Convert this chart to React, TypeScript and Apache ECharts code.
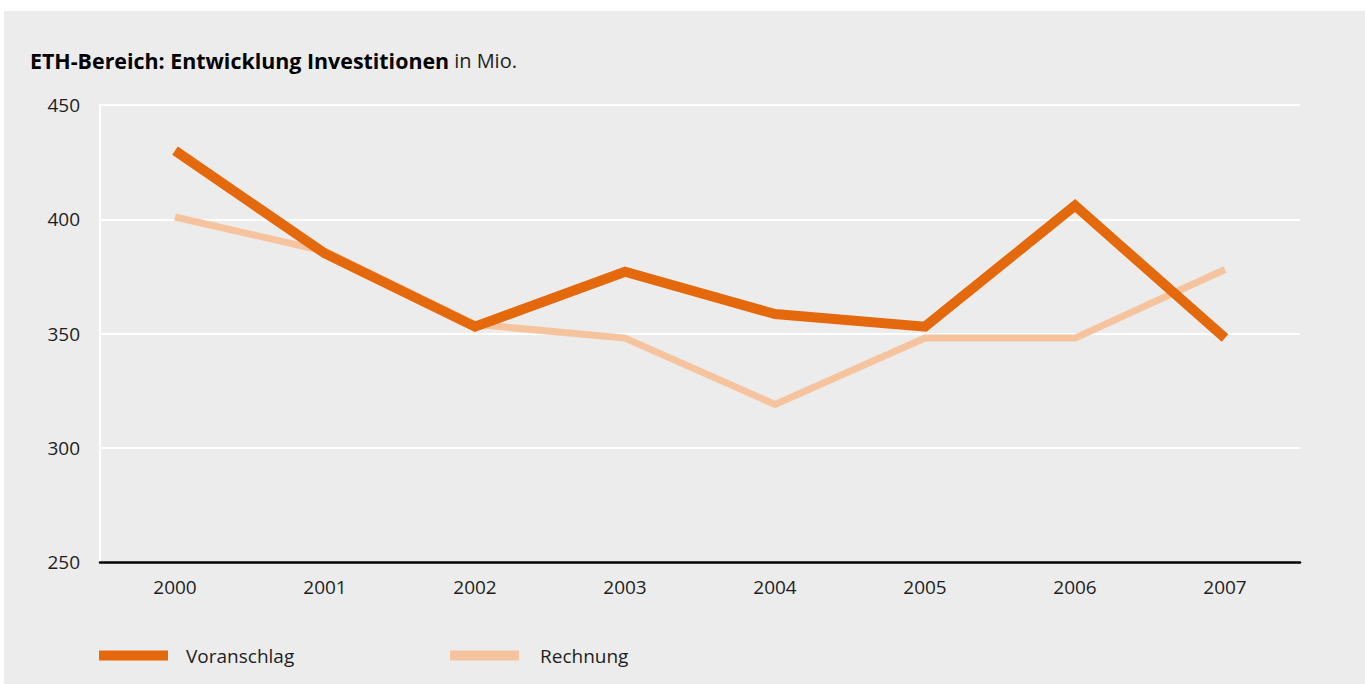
import React, { useEffect, useRef } from "react";
import * as echarts from "echarts";

const years = ["2000", "2001", "2002", "2003", "2004", "2005", "2006", "2007"];
const voranschlag = [430, 385, 353, 377, 358.5, 353, 406, 348];
const rechnung = [401, 386, 354, 348, 319, 348, 348, 378];
const yTicks = { min: 250, max: 450, interval: 50 };

const FONT = "'Open Sans', 'Noto Sans', sans-serif";
const ORANGE = "#e4690c";
const LIGHT = "#f5c39d";
const TEXT = "#1e1e1e";

export default function App() {
  const ref = useRef<HTMLDivElement>(null);
  useEffect(() => {
    if (!ref.current) return;
    const chart = echarts.init(ref.current, undefined, { renderer: "svg" });
    chart.setOption({
      animation: false,
      backgroundColor: "transparent",
      title: {
        left: 25,
        top: 45,
        text: "{b|ETH-Bereich: Entwicklung Investitionen} {r|in Mio.}",
        textStyle: {
          rich: {
            b: { fontFamily: FONT, fontWeight: "bold", fontSize: 21.4, color: "#000" },
            r: { fontFamily: FONT, fontWeight: "normal", fontSize: 20, color: TEXT },
          },
        },
      },
      legend: [
        {
          left: 94,
          top: 641,
          data: ["Voranschlag"],
          icon: "rect",
          itemWidth: 69,
          itemHeight: 10,
          textStyle: { fontFamily: FONT, fontSize: 19, color: TEXT, padding: [0, 0, 0, 13] },
        },
        {
          left: 445,
          top: 641,
          data: ["Rechnung"],
          icon: "rect",
          itemWidth: 69,
          itemHeight: 10,
          textStyle: { fontFamily: FONT, fontSize: 19, color: TEXT, padding: [0, 0, 0, 16] },
        },
      ],
      grid: { left: 100, right: 65, top: 105, bottom: 122, containLabel: false },
      xAxis: {
        type: "category",
        data: years,
        boundaryGap: true,
        axisLine: { show: true, lineStyle: { color: "#000", width: 2.5 } },
        axisTick: { show: false },
        axisLabel: { fontFamily: FONT, fontSize: 19, color: TEXT, margin: 15 },
        splitLine: { show: false },
      },
      yAxis: {
        type: "value",
        min: yTicks.min,
        max: yTicks.max,
        interval: yTicks.interval,
        axisLine: { show: true, lineStyle: { color: "#fff", width: 2 } },
        axisTick: { show: false },
        axisLabel: { fontFamily: FONT, fontSize: 19, color: TEXT, margin: 20 },
        splitLine: { show: true, lineStyle: { color: "#fff", width: 2 } },
      },
      series: [
        {
          name: "Rechnung",
          type: "line",
          data: rechnung,
          symbol: "none",
          z: 2,
          itemStyle: { color: LIGHT },
          lineStyle: { color: LIGHT, width: 7, join: "miter", cap: "butt" },
        },
        {
          name: "Voranschlag",
          type: "line",
          data: voranschlag,
          symbol: "none",
          z: 3,
          itemStyle: { color: ORANGE },
          lineStyle: { color: ORANGE, width: 10, join: "miter", cap: "butt" },
        },
      ],
    });
    return () => chart.dispose();
  }, []);
  return (
    <div style={{ position: "fixed", left: 0, top: 0, width: 1365, height: 684, background: "#fff" }}>
      <div style={{ position: "absolute", left: 4, top: 11, right: 0, bottom: 0, background: "#ececec" }} />
      <div ref={ref} style={{ position: "absolute", left: 0, top: 0, width: 1365, height: 684 }} />
    </div>
  );
}
